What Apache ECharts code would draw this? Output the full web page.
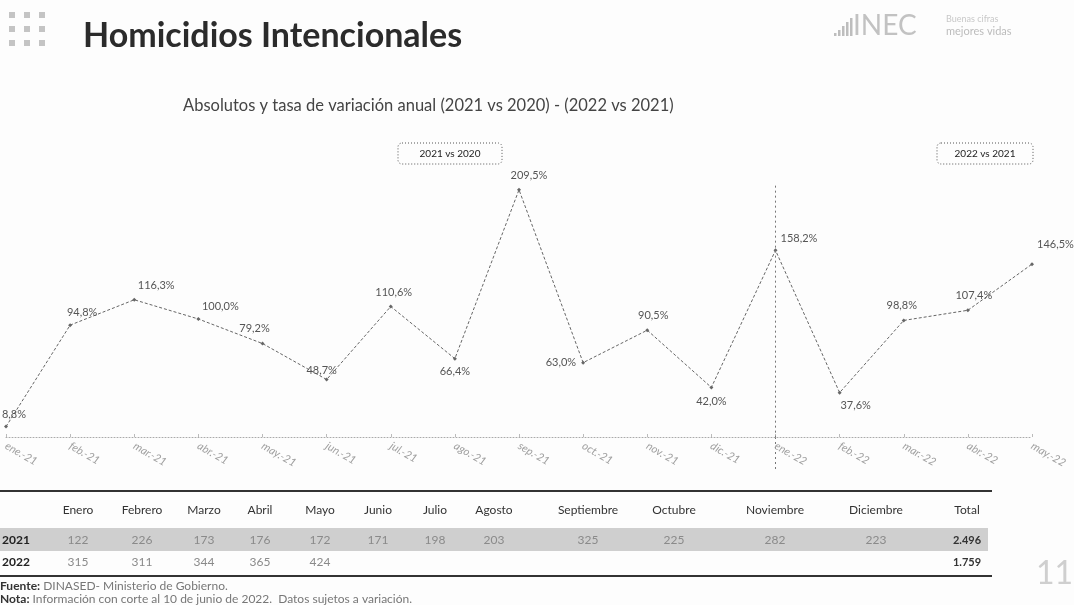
<!DOCTYPE html>
<html>
<head>
<meta charset="utf-8">
<script src="https://cdn.jsdelivr.net/npm/echarts@6/dist/echarts.min.js"></script>
<style>
  html, body { margin: 0; padding: 0; background: #fdfdfd; }
  #chart { width: 1074px; height: 605px; }
</style>
</head>
<body>
<div id="chart"></div>
<script>
// ====== datos: tasa de variación anual ======
const meses = [
  "ene.-21", "feb.-21", "mar.-21", "abr.-21", "may.-21", "jun.-21", "jul.-21", "ago.-21",
  "sep.-21", "oct.-21", "nov.-21", "dic.-21", "ene.-22", "feb.-22", "mar.-22", "abr.-22", "may.-22",
];
const variacion = [8.8, 94.8, 116.3, 100.0, 79.2, 48.7, 110.6, 66.4, 209.5, 63.0, 90.5, 42.0, 158.2, 37.6, 98.8, 107.4, 146.5];
const corteMes = "ene.-22";

// ====== datos: tabla de absolutos ======
const mesesTabla = ["Enero", "Febrero", "Marzo", "Abril", "Mayo", "Junio", "Julio", "Agosto",
  "Septiembre", "Octubre", "Noviembre", "Diciembre"];
const casos2021 = [122, 226, 173, 176, 172, 171, 198, 203, 325, 225, 282, 223];
const casos2022 = [315, 311, 344, 365, 424];

const fmtPct = (v) => v.toFixed(1).replace(".", ",") + "%";
const fmtMiles = (v) => String(v).replace(/\B(?=(\d{3})+(?!\d))/g, ".");
const total = (arr) => arr.reduce((a, b) => a + b, 0);

// posiciones de etiquetas (estilo)
const labelPlace = [
  ["top", [8, 0]], ["top", [12, 0]], ["top", [22, -2]], ["top", [22, 0]], ["top", [-8, -3]],
  ["top", [-5, 3]], ["top", [3, -2]], ["bottom", [0, 0]], ["top", [10, -2]], ["left", [0, 0]],
  ["top", [6, -2]], ["bottom", [0, 2]], ["right", [-2, -12]], ["bottom", [16, 0]], ["top", [-2, -2]],
  ["top", [6, -2]], ["right", [-2, -20]],
];

const colX = [78, 142, 204, 260, 320, 378, 435, 494, 588, 674, 775, 876];
const totalX = 967;
const FONT = "Lato, 'Noto Sans', sans-serif";

const tableGraphics = [];
tableGraphics.push(
  { type: "rect", shape: { x: 0, y: 490, width: 992, height: 2 }, style: { fill: "#333" } },
  { type: "rect", shape: { x: 0, y: 528, width: 988, height: 23 }, style: { fill: "#cfcfcf" } },
  { type: "rect", shape: { x: 0, y: 575, width: 992, height: 2 }, style: { fill: "#333" } }
);
mesesTabla.forEach((m, i) => {
  tableGraphics.push({ type: "text", x: colX[i], y: 510,
    style: { text: m, font: `12px ${FONT}`, fill: "#333", align: "center", verticalAlign: "middle" } });
});
tableGraphics.push({ type: "text", x: totalX, y: 510,
  style: { text: "Total", font: `12px ${FONT}`, fill: "#333", align: "center", verticalAlign: "middle" } });
[["2021", casos2021, 540], ["2022", casos2022, 562]].forEach(([anio, vals, y]) => {
  tableGraphics.push({ type: "text", x: 2, y,
    style: { text: anio, font: `bold 12px ${FONT}`, fill: "#222", verticalAlign: "middle" } });
  vals.forEach((v, i) => {
    tableGraphics.push({ type: "text", x: colX[i], y,
      style: { text: String(v), font: `12px ${FONT}`, fill: "#8a8a8a", align: "center", verticalAlign: "middle" } });
  });
  tableGraphics.push({ type: "text", x: totalX, y,
    style: { text: fmtMiles(total(vals)), font: `bold 11px ${FONT}`, fill: "#333", align: "center", verticalAlign: "middle" } });
});

// puntos decorativos del encabezado
const dots = [];
for (let r = 0; r < 3; r++) {
  for (let c = 0; c < 3; c++) {
    dots.push({ type: "rect", shape: { x: 9 + c * 15, y: 12 + r * 14, width: 6, height: 6 }, style: { fill: "#c4c4c4" } });
  }
}
const bars = [3, 6, 10, 14, 18].map((h, i) => ({
  type: "rect", shape: { x: 834 + i * 4, y: 36 - h, width: 2.5, height: h }, style: { fill: "#bdbdbd" },
}));

const chart = echarts.init(document.getElementById("chart"));

const option = {
  backgroundColor: "#fdfdfd",
  animation: false,
  grid: { left: 6, right: 42, top: 142, bottom: 168 },
  xAxis: {
    type: "category",
    data: meses,
    boundaryGap: false,
    axisLine: { lineStyle: { color: "#aaa", type: [1, 2] } },
    axisTick: { show: true, inside: true, length: 3, lineStyle: { color: "#bbb" } },
    axisLabel: { rotate: -30, margin: 8, color: "#a0a0a0", fontSize: 11, fontFamily: FONT, fontStyle: "italic" },
  },
  yAxis: { type: "value", min: 0, max: 250, show: false, splitLine: { show: false } },
  series: [
    {
      type: "line",
      data: variacion.map((v, i) => ({
        value: v,
        label: { position: labelPlace[i][0], offset: labelPlace[i][1] },
      })),
      symbol: "diamond",
      symbolSize: 4,
      itemStyle: { color: "#666" },
      lineStyle: { color: "#666", width: 1, type: [3, 2] },
      label: {
        show: true,
        formatter: (p) => fmtPct(p.value),
        color: "#555",
        fontSize: 11,
        fontFamily: FONT,
      },
      markLine: {
        silent: true,
        symbol: "none",
        label: { show: false },
        lineStyle: { color: "#777", width: 1, type: [2, 3] },
        data: [[{ coord: [corteMes, 213] }, { coord: [corteMes, 0] }]],
      },
    },
  ],
  graphic: [
    ...dots,
    { type: "text", x: 83, y: 36,
      style: { text: "Homicidios Intencionales", font: `bold 34px ${FONT}`, fill: "#2b2b2b", verticalAlign: "middle" } },
    ...bars,
    { type: "text", x: 853, y: 26,
      style: { text: "INEC", font: `28px ${FONT}`, fill: "#c2c2c2", verticalAlign: "middle" } },
    { type: "text", x: 946, y: 19,
      style: { text: "Buenas cifras", font: `9px ${FONT}`, fill: "#c8c8c8", verticalAlign: "middle" } },
    { type: "text", x: 946, y: 31,
      style: { text: "mejores vidas", font: `11px ${FONT}`, fill: "#bcbcbc", verticalAlign: "middle" } },
    { type: "text", x: 183, y: 106,
      style: { text: "Absolutos y tasa de variación anual (2021 vs 2020) - (2022 vs 2021)", font: `16.5px ${FONT}`, fill: "#444", verticalAlign: "middle" } },
    { type: "rect", shape: { x: 398, y: 143, width: 104, height: 21, r: 4 },
      style: { fill: "none", stroke: "#555", lineWidth: 1, lineDash: [1, 2] } },
    { type: "text", x: 450, y: 153.5,
      style: { text: "2021 vs 2020", font: `10px ${FONT}`, fill: "#222", align: "center", verticalAlign: "middle" } },
    { type: "rect", shape: { x: 937, y: 143, width: 96, height: 21, r: 4 },
      style: { fill: "none", stroke: "#555", lineWidth: 1, lineDash: [1, 2] } },
    { type: "text", x: 985, y: 153.5,
      style: { text: "2022 vs 2021", font: `10px ${FONT}`, fill: "#222", align: "center", verticalAlign: "middle" } },
    ...tableGraphics,
    { type: "text", x: 0, y: 586,
      style: {
        text: "{b|Fuente:} DINASED- Ministerio de Gobierno.",
        font: `12px ${FONT}`, fill: "#777", verticalAlign: "middle",
        rich: { b: { fontWeight: "bold", fill: "#333", fontSize: 12, fontFamily: FONT } },
      } },
    { type: "text", x: 0, y: 599,
      style: {
        text: "{b|Nota:} Información con corte al 10 de junio de 2022.  Datos sujetos a variación.",
        font: `12px ${FONT}`, fill: "#777", verticalAlign: "middle",
        rich: { b: { fontWeight: "bold", fill: "#333", fontSize: 12, fontFamily: FONT } },
      } },
    { type: "text", x: 1036, y: 574,
      style: { text: "11", font: `32px ${FONT}`, fill: "#cfcfcf", verticalAlign: "middle" } },
  ],
};

chart.setOption(option);

// prolongación de la línea de corte por debajo del eje (a través de las etiquetas)
const top0 = chart.convertToPixel({ xAxisIndex: 0, yAxisIndex: 0 }, [corteMes, 0]);
const bot0 = chart.convertToPixel({ xAxisIndex: 0, yAxisIndex: 0 }, [corteMes, -28]);
option.graphic.push({
  type: "line",
  shape: { x1: top0[0], y1: top0[1], x2: bot0[0], y2: bot0[1] },
  style: { stroke: "#777", lineWidth: 1, lineDash: [2, 3] },
  silent: true,
});
chart.setOption({ graphic: option.graphic });
</script>
</body>
</html>
